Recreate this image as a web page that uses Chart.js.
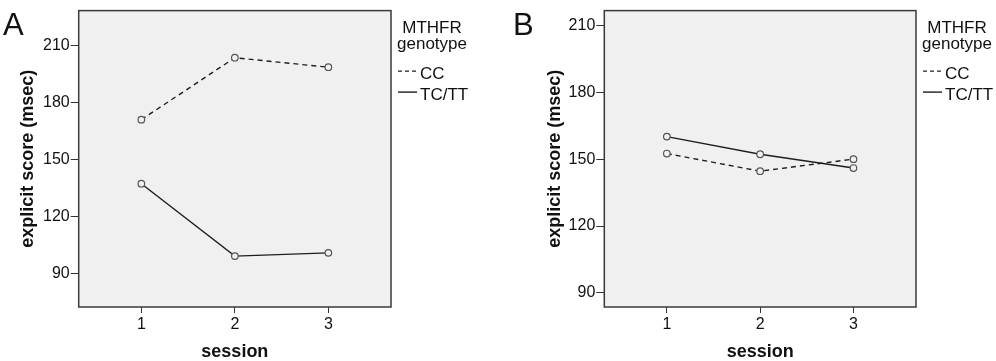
<!DOCTYPE html>
<html>
<head>
<meta charset="utf-8">
<script src="https://cdn.jsdelivr.net/npm/chart.js@4.4.0/dist/chart.umd.min.js"></script>
<style>
  body { margin: 0; background: #fff; width: 996px; height: 361px; overflow: hidden; position: relative; font-family: "Liberation Sans", Arial, sans-serif; }
  .panel { position: absolute; top: 0; width: 498px; height: 361px; }
  .tag { position: absolute; font-size: 31px; line-height: 1; color: #111; }
</style>
</head>
<body>
<div class="panel" style="left:0"><canvas id="chartA"></canvas></div>
<div class="panel" style="left:498px"><canvas id="chartB"></canvas></div>
<div class="tag" style="left:3px;top:9px">A</div>
<div class="tag" style="left:513px;top:9px">B</div>
<script>
// data
const sessions = [1, 2, 3];
const ccA = [170.8, 203.4, 198.4];
const tcA = [137.1, 99.0, 100.7];
const ccB = [152.5, 144.6, 150.0];
const tcB = [160.1, 152.2, 146.0];
const yTicks = [90, 120, 150, 180, 210];
const seriesNames = ['CC', 'TC/TT'];
const legendTitle = ['MTHFR', 'genotype'];

const FONT = '"Liberation Sans", Arial, sans-serif';

// grey plot box with dark frame
const plotFrame = {
    id: 'plotFrame',
    beforeDraw(chart) {
        const { ctx, chartArea: a } = chart;
        ctx.save();
        ctx.fillStyle = '#f0f0f0';
        ctx.fillRect(a.left, a.top, a.right - a.left, a.bottom - a.top);
        ctx.restore();
    },
    afterDraw(chart) {
        const { ctx, chartArea: a } = chart;
        ctx.save();
        ctx.strokeStyle = '#3a3a3a';
        ctx.lineWidth = 1.5;
        ctx.strokeRect(a.left, a.top, a.right - a.left, a.bottom - a.top);
        ctx.restore();
    }
};

// legend to the right of the plot box
const genotypeLegend = {
    id: 'genotypeLegend',
    afterDraw(chart) {
        const { ctx, chartArea: a } = chart;
        const x0 = a.right, y0 = a.top;
        ctx.save();
        ctx.fillStyle = '#111';
        ctx.font = '17px ' + FONT;
        ctx.textAlign = 'center';
        ctx.textBaseline = 'middle';
        ctx.fillText(legendTitle[0], x0 + 41, y0 + 17.7);
        ctx.fillText(legendTitle[1], x0 + 41, y0 + 33.5);
        ctx.textAlign = 'left';
        chart.data.datasets.forEach((ds, i) => {
            const y = y0 + 60.5 + i * 21;
            ctx.strokeStyle = ds.borderColor;
            ctx.lineWidth = ds.borderWidth;
            ctx.setLineDash(ds.borderDash ? [4, 3] : []);
            ctx.beginPath();
            ctx.moveTo(x0 + 7, y);
            ctx.lineTo(x0 + 26, y);
            ctx.stroke();
            ctx.fillText(ds.label, x0 + 29, y + 3.2);
        });
        ctx.restore();
    }
};

function toPoints(values) {
    return sessions.map((s, i) => ({ x: s, y: values[i] }));
}

function makeChart(id, cc, tc, yMin, yMax, pad, yWidth) {
    const lineStyle = {
        borderColor: '#1e1e1e',
        borderWidth: 1.4,
        pointRadius: 3.3,
        pointBorderWidth: 1.2,
        pointBorderColor: '#555',
        pointBackgroundColor: '#f0f0f0',
        tension: 0
    };
    return new Chart(document.getElementById(id), {
        type: 'line',
        data: {
            datasets: [
                Object.assign({ label: seriesNames[0], data: toPoints(cc), borderDash: [5, 4] }, lineStyle),
                Object.assign({ label: seriesNames[1], data: toPoints(tc) }, lineStyle)
            ]
        },
        options: {
            responsive: true,
            maintainAspectRatio: false,
            animation: false,
            layout: { padding: pad },
            plugins: { legend: { display: false }, tooltip: { enabled: false } },
            scales: {
                x: {
                    type: 'linear',
                    min: 0.33,
                    max: 3.67,
                    afterBuildTicks: s => { s.ticks = sessions.map(v => ({ value: v })); },
                    afterFit: s => { s.height = 54; },
                    grid: { drawOnChartArea: false, drawTicks: true, tickLength: 6, color: '#333' },
                    border: { display: false },
                    ticks: { color: '#111', padding: 2, font: { family: FONT, size: 16 } },
                    title: {
                        display: true, text: 'session', color: '#111',
                        font: { family: FONT, size: 18, weight: 'bold', lineHeight: 1 },
                        padding: { top: 0, bottom: 0 }
                    }
                },
                y: {
                    min: yMin,
                    max: yMax,
                    afterBuildTicks: s => { s.ticks = yTicks.map(v => ({ value: v })); },
                    afterFit: s => { s.width = yWidth; },
                    grid: { drawOnChartArea: false, drawTicks: true, tickLength: 8, color: '#333' },
                    border: { display: false },
                    ticks: { color: '#111', padding: 1, font: { family: FONT, size: 16 } },
                    title: {
                        display: true, text: 'explicit score (msec)', color: '#111',
                        font: { family: FONT, size: 18, weight: 'bold', lineHeight: 1 },
                        padding: { top: 0, bottom: 0 }
                    }
                }
            }
        },
        plugins: [plotFrame, genotypeLegend]
    });
}

makeChart('chartA', ccA, tcA, 72.2, 228.2, { left: 19, top: 6.7, right: 107, bottom: 0 }, 59.7);
makeChart('chartB', ccB, tcB, 83.7, 216.6, { left: 48.3, top: 4, right: 80, bottom: 0 }, 58);
</script>
</body>
</html>
